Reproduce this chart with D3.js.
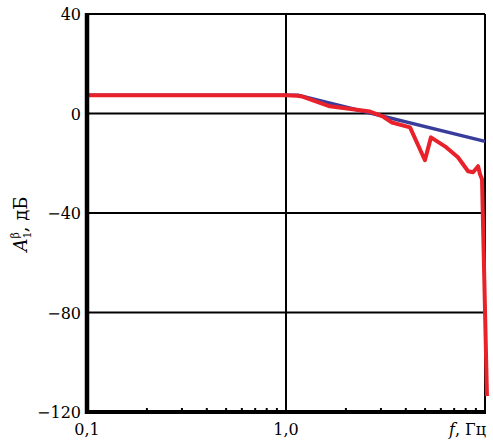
<!DOCTYPE html>
<html>
<head>
<meta charset="utf-8">
<script src="https://cdn.jsdelivr.net/npm/d3@7"></script>
<style>
  body { margin: 0; background: #fff; }
  text { font-family: "DejaVu Serif", serif; fill: #000; }
</style>
</head>
<body>
<div id="plotviz"></div>
<script>
const yTicks = [40, 0, -40, -80, -120];
const xLabels = [[0.1, "0,1"], [1, "1,0"]];
const gridY = [40, 0, -40, -80];
const gridX = [1, 10];

// blue: asymptotic response
const blueF = [0.1, 1.15, 10];
const blueDb = [7.3, 7.3, -11.2];

// red: measured response
const redF = [0.1, 1.0, 1.135, 1.21, 1.66, 2.64, 3.07, 3.41, 4.2, 4.99, 5.35, 6.29, 7.31, 8.22, 8.71, 9.23, 9.44, 9.66, 10.23];
const redDb = [7.3, 7.3, 7.1, 6.8, 2.9, 0.8, -1.2, -3.6, -5.6, -18.8, -9.6, -13.2, -17.6, -23.2, -23.6, -21.2, -24.4, -26.4, -113.6];

const width = 493, height = 443;
const margin = { top: 14, right: 8, bottom: 31, left: 87 };

const svg = d3.select("#plotviz")
  .append("svg")
  .attr("width", width)
  .attr("height", height);

const x = d3.scaleLog()
  .domain([0.1, 10])
  .range([margin.left, width - margin.right]);
const y = d3.scaleLinear()
  .domain([-120, 40])
  .range([height - margin.bottom, margin.top]);

// grid
svg.selectAll("gridH")
  .data(gridY)
  .join("line")
  .attr("x1", x(0.1)).attr("x2", x(10))
  .attr("y1", d => y(d)).attr("y2", d => y(d))
  .style("stroke", "#000").style("stroke-width", 2);
svg.selectAll("gridV")
  .data(gridX)
  .join("line")
  .attr("x1", d => x(d)).attr("x2", d => x(d))
  .attr("y1", y(40)).attr("y2", y(-120))
  .style("stroke", "#000").style("stroke-width", 2);

// minor ticks on the bottom axis
const minor = [];
[0.1, 1].forEach(dec => {
  for (let k = 2; k <= 9; k++) minor.push(dec * k);
});
svg.selectAll("minorTick")
  .data(minor)
  .join("line")
  .attr("x1", d => x(d)).attr("x2", d => x(d))
  .attr("y1", y(-120)).attr("y2", y(-120) - 4)
  .style("stroke", "#000").style("stroke-width", 2);

// curves
const line = (fs, vs) => d3.line()(fs.map((f, i) => [x(f), y(vs[i])]));

svg.append("path")
  .attr("d", line(blueF, blueDb))
  .style("fill", "none")
  .style("stroke", "#3a3c9c")
  .style("stroke-width", 3.5);

svg.append("path")
  .attr("d", line(redF, redDb))
  .style("fill", "none")
  .style("stroke", "#e8212b")
  .style("stroke-width", 4)
  .style("stroke-linejoin", "round");

// heavy left and bottom axes
svg.append("line")
  .attr("x1", x(0.1)).attr("x2", x(0.1))
  .attr("y1", y(40) - 1).attr("y2", y(-120) + 2)
  .style("stroke", "#000").style("stroke-width", 4.5);
svg.append("line")
  .attr("x1", x(0.1) - 2).attr("x2", x(10) + 1)
  .attr("y1", y(-120)).attr("y2", y(-120))
  .style("stroke", "#000").style("stroke-width", 4);

// y tick labels
svg.selectAll("yLabel")
  .data(yTicks)
  .join("text")
  .attr("x", x(0.1) - 6)
  .attr("y", d => y(d) + 6)
  .style("text-anchor", "end")
  .style("font-size", "16px")
  .text(d => d < 0 ? "\u2212" + Math.abs(d) : d);

// x tick labels
svg.selectAll("xLabel")
  .data(xLabels)
  .join("text")
  .attr("x", d => x(d[0]))
  .attr("y", 435)
  .style("text-anchor", "middle")
  .style("font-size", "16px")
  .text(d => d[1]);

const xTitle = svg.append("text")
  .attr("x", x(10) + 1)
  .attr("y", 435)
  .style("text-anchor", "end")
  .style("font-size", "16px");
xTitle.append("tspan").style("font-style", "italic").text("f");
xTitle.append("tspan").text(", Гц");

// y title
const yTitle = svg.append("text")
  .attr("transform", "translate(27,224) rotate(-90)")
  .style("text-anchor", "middle")
  .style("font-size", "18px");
yTitle.append("tspan").style("font-style", "italic").text("A");
yTitle.append("tspan").attr("dy", 4).style("font-size", "11px").text("1");
yTitle.append("tspan").attr("dx", -7).attr("dy", -12).style("font-size", "11px").text("β");
yTitle.append("tspan").attr("dy", 8).text(", дБ");
</script>
</body>
</html>
